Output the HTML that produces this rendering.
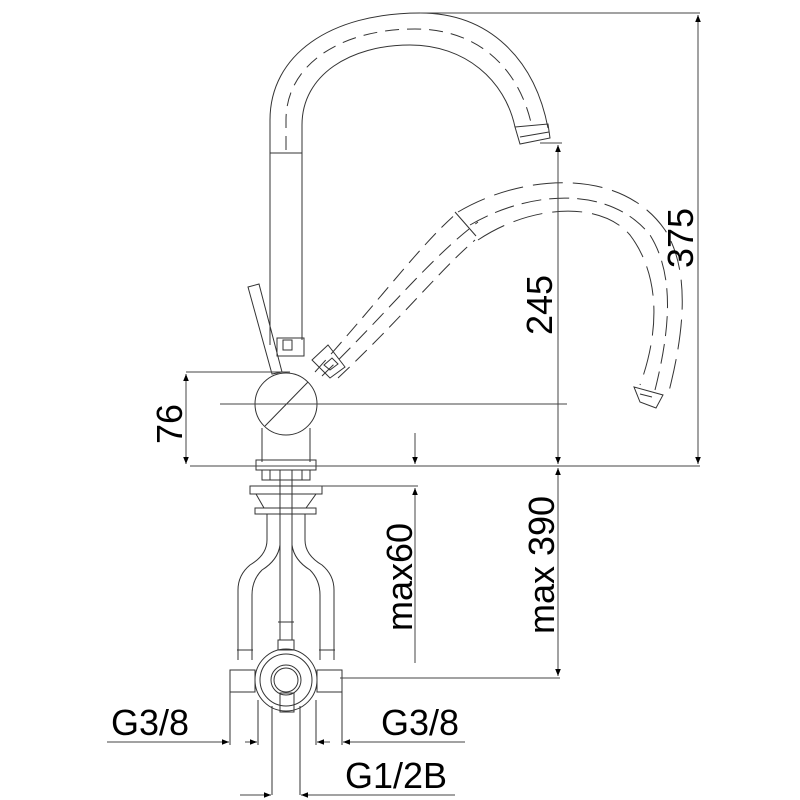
<!DOCTYPE html>
<html><head><meta charset="utf-8"><style>
html,body{margin:0;padding:0;background:#fff}
svg{display:block}
text{font-family:"Liberation Sans",sans-serif;fill:#000}
</style></head><body>
<svg width="800" height="800" viewBox="0 0 800 800" xmlns="http://www.w3.org/2000/svg">
<defs>
<marker id="a" viewBox="0 0 10 10" refX="10" refY="5" markerWidth="12" markerHeight="7" orient="auto-start-reverse" markerUnits="userSpaceOnUse"><path d="M0,1 L10,5 L0,9 z" fill="#000"/></marker>
</defs>
<g fill="none" stroke="#333" stroke-width="1">
<path d="M270,153 L270,120 C270,55 330,13 420,13 C490,13 535,60 548,128"/>
<path d="M302,153 L302,125 C302,75 350,45 410,45 C465,45 505,80 515,127"/>
<path d="M286,150 L286,120 C286,65 340,29 415,29 C480,29 520,70 532,127" stroke-dasharray="14 8"/>
<path d="M515,127 L548,124 L550,138 L520,144 z"/>
<path d="M520,137 L549,132"/>
<path d="M270,153 L302,153 M270,153 L270,345 M302,153 L302,340"/>
<path d="M277,338 L304,338 L304,356 L277,356 z M283,340 L292,340 L292,350 L283,350 z"/>
<path d="M248,287 L259,284 L282,372 L272,374 z"/>
<circle cx="286" cy="404" r="31"/>
<path d="M265,426 L308,382"/>
<path d="M262,428 L262,462 M310,428 L310,462"/>
<path d="M256,460 L316,460 L316,470 L256,470 z"/>
<path d="M262,470 L262,480 L310,480 L310,470 M270,470 L270,480 M280,470 L280,480 M292,470 L292,480 M302,470 L302,480"/>
<path d="M312,360 L328,345 L345,367 L330,378 z M324,365 L332,358 L338,364 L330,370z"/>
<path d="M315,372 C380,300 420,245 458,212" stroke-dasharray="16 8"/>
<path d="M322,376 C390,310 430,258 478,222" stroke-dasharray="16 8"/>
<path d="M338,378 C400,320 440,270 475,240" stroke-dasharray="16 8"/>
<path d="M455,212 L476,236"/>
<path d="M458,212 C520,175 620,165 665,230 C690,270 685,330 668,395" stroke-dasharray="30 10"/>
<path d="M470,225 C530,190 610,185 650,235 C675,275 670,330 655,390" stroke-dasharray="20 8"/>
<path d="M478,240 C530,205 600,200 630,235 C660,275 660,330 640,385" stroke-dasharray="30 10"/>
<path d="M634,387 L663,395 L656,408 L640,402 z M640,394 L652,397"/>
<path d="M250,486 L322,486 L322,494 L250,494 z M256,494 L316,494 L306,508 L264,508 z"/>
<path d="M255,508 L316,508 L316,514 L255,514 z"/>
<path d="M280,480 L280,640 M292,480 L292,640 M278,622 L294,622 M278,640 L294,640 L294,650 L278,650z"/>
<path d="M267,514 L267,540 Q267,555 250,565 Q238,575 238,590 L238,660"/>
<path d="M280,514 L280,545 Q278,560 262,570 Q252,580 252,595 L252,660"/>
<path d="M305,514 L305,540 Q305,555 322,565 Q334,575 334,590 L334,660"/>
<path d="M292,514 L292,545 Q294,560 310,570 Q320,580 320,595 L320,660"/>
<path d="M237,650 L253,650 M319,650 L335,650"/>
<circle cx="286" cy="680" r="31"/>
<circle cx="286" cy="680" r="26"/>
<circle cx="286" cy="680" r="12"/>
<circle cx="286" cy="680" r="15"/>
<path d="M230,670 L255,670 L255,692 L230,692 z M317,670 L342,670 L342,692 L317,692 z"/>
<path d="M280,693 L294,693 L294,712 L280,712 z"/>
<path d="M230,692 L230,745 M258,700 L258,745 M272,706 L272,795 M300,706 L300,795 M316,700 L316,745 M342,692 L342,745"/>
</g>
<g fill="none" stroke="#444" stroke-width="1">
<path d="M420,13 L700,13"/>
<path d="M698,15 L698,464" marker-start="url(#a)" marker-end="url(#a)"/>
<path d="M190,466 L700,466"/>
<path d="M540,143 L562,143"/>
<path d="M558,145 L558,464" marker-start="url(#a)" marker-end="url(#a)"/>
<path d="M220,404 L567,404"/>
<path d="M186,372 L290,372"/>
<path d="M186,374 L186,464" marker-start="url(#a)" marker-end="url(#a)"/>
<path d="M415,433 L415,464" marker-end="url(#a)"/>
<path d="M310,486 L418,486"/>
<path d="M415,488 L415,663" marker-start="url(#a)"/>
<path d="M558,468 L558,676" marker-start="url(#a)" marker-end="url(#a)"/>
<path d="M340,678 L560,678"/>
<path d="M107,742 L229,742" marker-end="url(#a)"/>
<path d="M245,742 L257,742" marker-end="url(#a)"/>
<path d="M330,742 L317,742" marker-end="url(#a)"/>
<path d="M465,742 L343,742" marker-end="url(#a)"/>
<path d="M240,795 L271,795" marker-end="url(#a)"/>
<path d="M455,795 L301,795" marker-end="url(#a)"/>
</g>
<g font-size="36">
<text transform="translate(693,238) rotate(-90)" text-anchor="middle">375</text>
<text transform="translate(552,305) rotate(-90)" text-anchor="middle">245</text>
<text transform="translate(182,424) rotate(-90)" text-anchor="middle">76</text>
<text transform="translate(412,577) rotate(-90)" text-anchor="middle">max60</text>
<text transform="translate(554,565) rotate(-90)" text-anchor="middle">max 390</text>
<text x="111" y="735">G3/8</text>
<text x="381" y="735">G3/8</text>
<text x="345" y="788">G1/2B</text>
</g>
</svg>
</body></html>
